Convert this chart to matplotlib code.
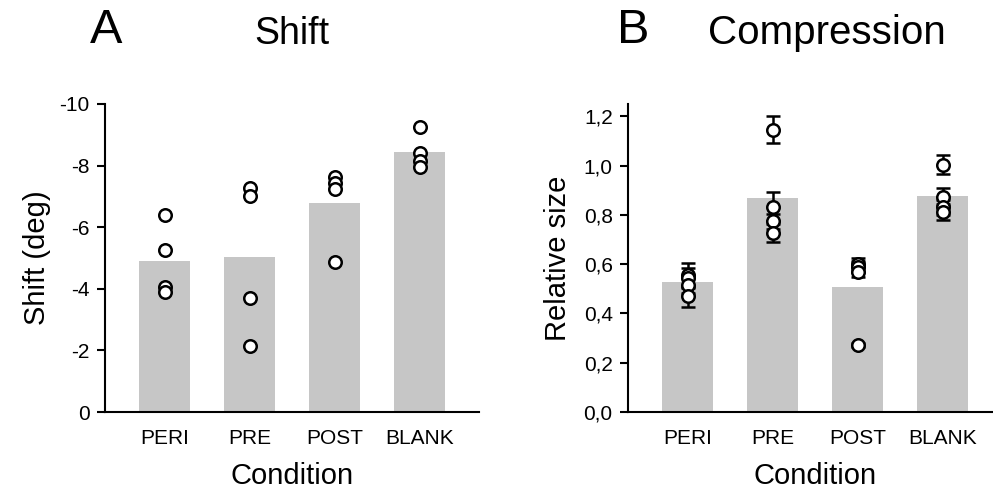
import numpy as np
import matplotlib
matplotlib.use('Agg')
import matplotlib.pyplot as plt

plt.rcParams.update({
    'font.family': ['Liberation Sans', 'DejaVu Sans'],
    'axes.linewidth': 1.5,
    'xtick.labelsize': 15,
    'ytick.labelsize': 15,
    'axes.labelsize': 21,
})

conditions = ['PERI', 'PRE', 'POST', 'BLANK']

# panel A: shift (deg), negative = towards -10 at the top
shift_means = [-4.91, -5.04, -6.79, -8.45]
shift_points = [
    [-6.40, -5.26, -4.05, -3.91],
    [-7.26, -7.02, -3.69, -2.14],
    [-7.64, -7.45, -7.23, -4.87],
    [-9.24, -8.40, -8.16, -7.94],
]
shift_ticks = [0, -2, -4, -6, -8, -10]
shift_ticklabels = ['0', '-2', '-4', '-6', '-8', '-10']

# panel B: relative size with per-subject error bars
size_means = [0.526, 0.868, 0.509, 0.875]
size_points = [
    [0.557, 0.545, 0.517, 0.469],
    [1.146, 0.834, 0.774, 0.726],
    [0.600, 0.590, 0.568, 0.273],
    [1.004, 0.873, 0.830, 0.812],
]
size_errs = [
    [0.048, 0.040, 0.035, 0.042],
    [0.056, 0.058, 0.030, 0.036],
    [0.025, 0.022, 0.022, 0.008],
    [0.037, 0.036, 0.030, 0.032],
]
size_ticks = [0.0, 0.2, 0.4, 0.6, 0.8, 1.0, 1.2]
size_ticklabels = ['0,0', '0,2', '0,4', '0,6', '0,8', '1,0', '1,2']

bar_color = '#c6c6c6'
W, H = 993, 493
fig = plt.figure(figsize=(W / 100, H / 100), dpi=100)

def px_axes(left, top, width, height):
    return fig.add_axes([left / W, (H - top - height) / H, width / W, height / H])

def style(ax):
    for s in ['top', 'right']:
        ax.spines[s].set_visible(False)
    ax.set_xticks(range(len(conditions)))
    ax.set_xticklabels(conditions)
    ax.tick_params(axis='x', length=0, pad=12)
    ax.tick_params(axis='y', length=6, width=1.5, pad=5)
    ax.set_xlim(-0.7, 3.7)
    ax.set_xlabel('Condition', labelpad=10)

x = np.arange(len(conditions))

axA = px_axes(105, 104, 374, 308)
axA.bar(x, shift_means, width=0.6, color=bar_color, zorder=1)
for i, pts in enumerate(shift_points):
    axA.plot([i] * len(pts), pts, 'o', mfc='white', mec='black', ms=9, mew=1.8, zorder=3)
axA.set_ylim(0, -10)
axA.set_yticks(shift_ticks)
axA.set_yticklabels(shift_ticklabels)
axA.set_ylabel('Shift (deg)', labelpad=6)
style(axA)

axB = px_axes(628, 104, 374, 308)
axB.bar(x, size_means, width=0.6, color=bar_color, zorder=1)
for i, (pts, errs) in enumerate(zip(size_points, size_errs)):
    axB.errorbar([i] * len(pts), pts, yerr=errs, fmt='o', mfc='white', mec='black',
                 ms=9, mew=1.8, ecolor='black', elinewidth=1.8, capsize=5,
                 capthick=1.8, zorder=3)
axB.set_ylim(0, 1.25)
axB.set_yticks(size_ticks)
axB.set_yticklabels(size_ticklabels)
axB.set_ylabel('Relative size', labelpad=8)
style(axB)

fig.text(90 / W, 1 - 43 / H, 'A', fontsize=35, ha='left', va='baseline')
fig.text(292 / W, 1 - 44 / H, 'Shift', fontsize=27, ha='center', va='baseline')
fig.text(617 / W, 1 - 43 / H, 'B', fontsize=35, ha='left', va='baseline')
fig.text(708 / W, 1 - 44 / H, 'Compression', fontsize=29, ha='left', va='baseline')

fig.savefig('out.png', dpi=100)
